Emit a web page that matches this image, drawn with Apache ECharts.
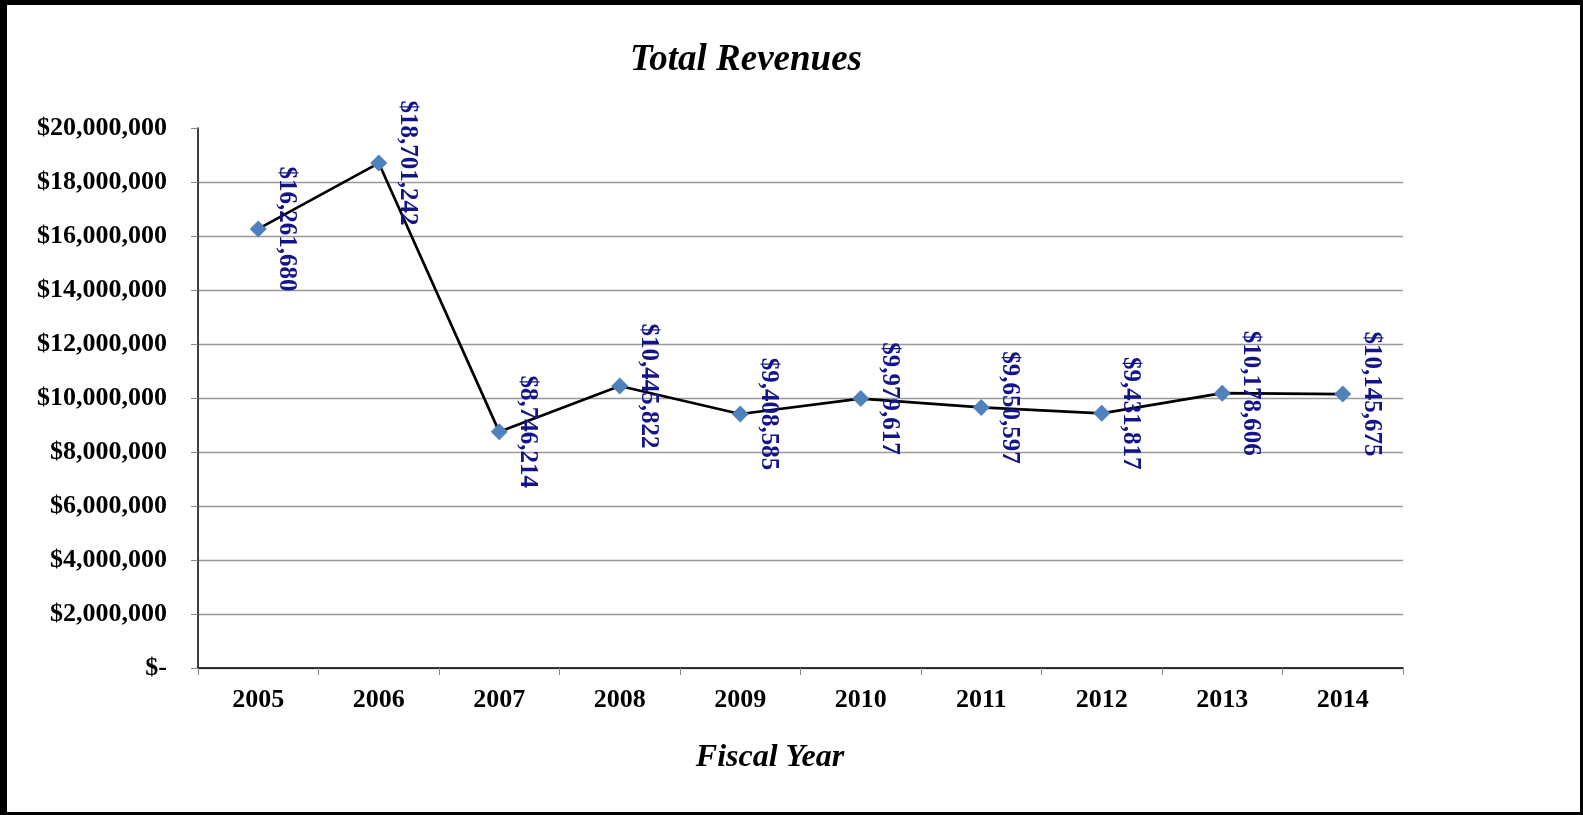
<!DOCTYPE html>
<html>
<head>
<meta charset="utf-8">
<script src="https://cdn.jsdelivr.net/npm/echarts@6/dist/echarts.min.js"></script>
<style>
html,body{margin:0;padding:0;background:#fff;}
#chart{position:absolute;left:0;top:0;width:1583px;height:815px;}
#frame{position:absolute;left:0;top:0;width:1583px;height:815px;box-sizing:border-box;
  border-top:5px solid #000;border-left:7px solid #000;border-right:3px solid #000;border-bottom:3px solid #000;pointer-events:none;}
</style>
</head>
<body>
<div id="chart"></div>
<div id="frame"></div>
<script>
const categories = ['2005','2006','2007','2008','2009','2010','2011','2012','2013','2014'];
const revenues = [16261680, 18701242, 8746214, 10445822, 9408585, 9979617, 9650597, 9431817, 10178606, 10145675];
const titleText = 'Total Revenues';
const xAxisTitle = 'Fiscal Year';

const serif = "'Liberation Serif', 'Times New Roman', serif";
function money(v){
  if (v === 0) return '$-';
  return '$' + String(Math.round(v)).replace(/\B(?=(\d{3})+(?!\d))/g, ',');
}

const chart = echarts.init(document.getElementById('chart'), null, {renderer:'canvas'});
chart.setOption({
  backgroundColor: '#fff',
  animation: false,
  graphic: [
    {type:'text', x: 746, y: 60, style:{text: titleText, fill:'#000', font: "italic bold 37px " + serif, align:'center', verticalAlign:'middle'}},
    {type:'text', x: 770, y: 758, style:{text: xAxisTitle, fill:'#000', font: "italic bold 32px " + serif, align:'center', verticalAlign:'middle'}}
  ],
  grid: {left: 198, right: 180, top: 128, bottom: 147, containLabel: false},
  xAxis: {
    type: 'category',
    data: categories,
    boundaryGap: true,
    axisLine: {lineStyle: {color:'#000', width:1.5}},
    axisTick: {show:true, length:7, alignWithLabel:false, lineStyle:{color:'#888'}},
    axisLabel: {color:'#000', fontFamily: serif, fontWeight:'bold', fontSize:26, margin:19},
    splitLine: {show:false}
  },
  yAxis: {
    type: 'value',
    min: 0, max: 20000000, interval: 2000000,
    axisLine: {show:true, lineStyle: {color:'#000', width:1.5}},
    axisTick: {show:true, length:7, lineStyle:{color:'#888'}},
    axisLabel: {color:'#000', fontFamily: serif, fontWeight:'bold', fontSize:26, margin:31, formatter: money},
    splitLine: {show:true, showMaxLine:false, lineStyle:{color:'#999', width:1.4}}
  },
  series: [{
    type: 'line',
    data: revenues,
    symbol: 'diamond',
    symbolSize: 17,
    itemStyle: {color:'#4F81BD'},
    lineStyle: {color:'#000', width:2.7},
    label: {
      show: true,
      position: 'right',
      distance: 20,
      rotate: -90,
      align: 'center',
      verticalAlign: 'middle',
      color: '#14148a',
      fontFamily: serif,
      fontWeight: 'bold',
      fontSize: 25,
      formatter: p => money(p.value)
    },
    z: 3
  }]
});
</script>
</body>
</html>
